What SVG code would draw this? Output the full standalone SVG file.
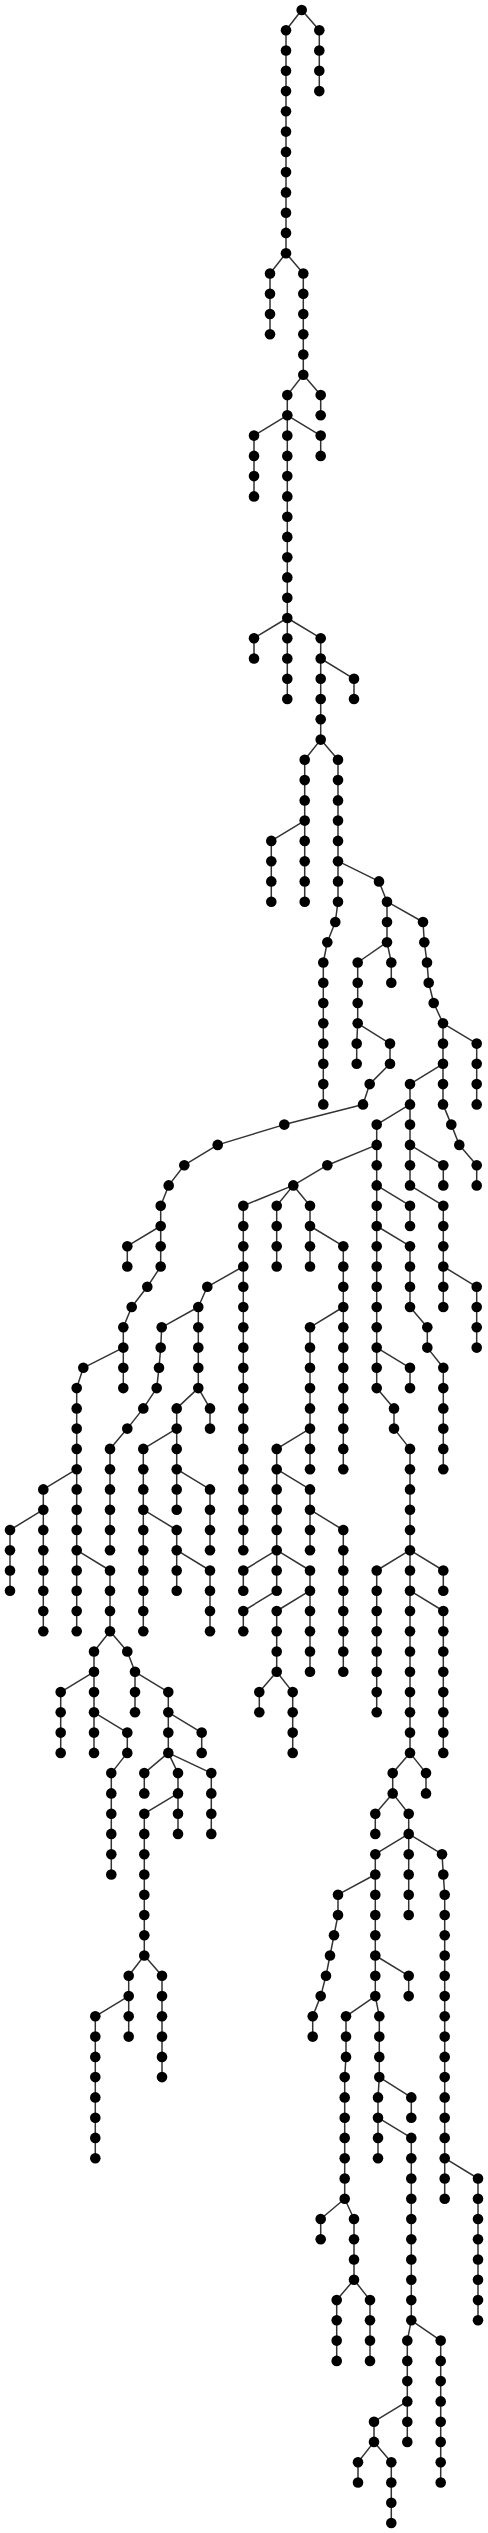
<svg xmlns="http://www.w3.org/2000/svg" width="488" height="2533" viewBox="0 0 488 2533">
<style>
#edges polyline{fill:none;stroke:#333;stroke-width:1.5;stroke-linejoin:round}
#nodes circle{fill:#000}
</style>
<rect width="488" height="2533" fill="#fff"/>
<g id="edges">
<polyline points="301.7,10 286,30.3 286,253.2"/>
<polyline points="301.7,10 319.3,30.3 319.3,91.1"/>
<polyline points="286,253.2 270,273.5 270,334.3"/>
<polyline points="286,253.2 303.3,273.5 303.3,374.8"/>
<polyline points="303.3,374.8 287.3,395.1 287.3,415.3"/>
<polyline points="303.3,374.8 320.7,395.1 320.7,415.3"/>
<polyline points="287.3,415.3 254,435.6 254,496.4"/>
<polyline points="287.3,415.3 320.7,435.6 320.7,455.9"/>
<polyline points="287.3,415.3 287.3,618"/>
<polyline points="287.3,618 254,638.2 254,658.5"/>
<polyline points="287.3,618 287.3,699"/>
<polyline points="287.3,618 320.7,638.2 320.7,739.6"/>
<polyline points="320.7,658.5 354,678.8 354,699"/>
<polyline points="320.7,739.6 304.7,759.8 304.7,820.6"/>
<polyline points="304.7,820.6 271.3,840.9 271.3,901.7"/>
<polyline points="304.7,820.6 304.7,901.7"/>
<polyline points="320.7,739.6 338,759.8 338,861.2"/>
<polyline points="338,861.2 338,901.7 335.3,922 327.3,942.2 323.3,962.5 323.3,1104.4"/>
<polyline points="338,861.2 379,881.4 387,901.7"/>
<polyline points="387,901.7 387,942.2"/>
<polyline points="387,942.2 391.3,962.5 391.3,982.8"/>
<polyline points="387,942.2 357.7,962.5 357.7,1023.3"/>
<polyline points="357.7,1023.3 356.7,1043.6 356.7,1063.8"/>
<polyline points="357.7,1023.3 390,1043.6 390,1063.8 369.7,1084.1 363,1104.4 284.3,1124.6 217.7,1144.9 184.3,1165.2 168.7,1185.4 160.7,1205.7 160.7,1226"/>
<polyline points="387,901.7 423,922 424.3,942.2 427,962.5 428.7,982.8 433.7,1003 443,1023.3"/>
<polyline points="443,1023.3 476.7,1043.6 476.7,1104.4"/>
<polyline points="443,1023.3 443,1063.8"/>
<polyline points="443,1063.8 443,1104.4 451.3,1124.6 459.3,1144.9 476.7,1165.2 476.7,1185.4"/>
<polyline points="443,1063.8 410,1084.1 410,1104.4"/>
<polyline points="410,1104.4 376.7,1124.6 376.7,1144.9"/>
<polyline points="376.7,1144.9 327.3,1165.2 293.3,1185.4"/>
<polyline points="293.3,1185.4 243.3,1205.7 243.3,1550.2"/>
<polyline points="243.3,1266.5 207.3,1286.8 198.3,1307"/>
<polyline points="198.3,1307 198.3,1388.1"/>
<polyline points="198.3,1388.1 210,1408.4 210,1428.6"/>
<polyline points="198.3,1388.1 176.7,1408.4 176.7,1428.6"/>
<polyline points="176.7,1428.6 143.3,1448.9 143.3,1509.7"/>
<polyline points="143.3,1509.7 143.3,1631.3"/>
<polyline points="143.3,1509.7 176.7,1530 176.7,1550.2"/>
<polyline points="176.7,1550.2 176.7,1590.7"/>
<polyline points="176.7,1550.2 210,1570.5 210,1631.3"/>
<polyline points="176.7,1428.6 176.7,1469.2"/>
<polyline points="176.7,1469.2 176.7,1509.7"/>
<polyline points="176.7,1469.2 210,1489.4 210,1550.2"/>
<polyline points="198.3,1307 161.7,1327.3 160.7,1347.6 159,1367.8 156.7,1388.1 143.3,1408.4 127.3,1428.6 110,1448.9 110,1550.2"/>
<polyline points="293.3,1185.4 276.7,1205.7 276.7,1266.5"/>
<polyline points="293.3,1185.4 310,1205.7 310,1226"/>
<polyline points="310,1226 310,1266.5"/>
<polyline points="310,1226 343.3,1246.2 343.3,1307"/>
<polyline points="343.3,1307 343.3,1469.2"/>
<polyline points="343.3,1307 310,1327.3 310,1428.6"/>
<polyline points="310,1428.6 310,1469.2"/>
<polyline points="310,1428.6 276.7,1448.9 276.7,1469.2"/>
<polyline points="276.7,1469.2 276.7,1550.2"/>
<polyline points="276.7,1469.2 310,1489.4 310,1509.7"/>
<polyline points="310,1509.7 310,1550.2"/>
<polyline points="310,1509.7 343.3,1530 343.3,1671.8"/>
<polyline points="276.7,1550.2 243.3,1570.5 243.3,1590.7"/>
<polyline points="276.7,1550.2 276.7,1590.7"/>
<polyline points="276.7,1590.7 243.3,1611 243.3,1631.3"/>
<polyline points="276.7,1550.2 310,1570.5 310,1590.7"/>
<polyline points="310,1590.7 310,1671.8"/>
<polyline points="310,1590.7 276.7,1611 276.7,1671.8"/>
<polyline points="276.7,1671.8 259.3,1692.1 259.3,1712.3"/>
<polyline points="276.7,1671.8 292.7,1692.1 292.7,1752.9"/>
<polyline points="376.7,1144.9 376.7,1185.4"/>
<polyline points="376.7,1185.4 410,1205.7 410,1226"/>
<polyline points="376.7,1185.4 376.7,1226"/>
<polyline points="376.7,1226 376.7,1347.6"/>
<polyline points="376.7,1347.6 410,1367.8 410,1388.1"/>
<polyline points="376.7,1347.6 376.7,1388.1 394,1408.4 394,1428.6 410,1448.9 410,1550.2"/>
<polyline points="410,1550.2 376.7,1570.5 376.7,1712.3"/>
<polyline points="410,1550.2 410,1590.7"/>
<polyline points="410,1550.2 443.3,1570.5 443.3,1590.7"/>
<polyline points="410,1590.7 443.3,1611 443.3,1752.9"/>
<polyline points="410,1590.7 410,1752.9"/>
<polyline points="410,1752.9 392.7,1773.1 392.7,1793.4"/>
<polyline points="410,1752.9 426,1773.1 426,1793.4"/>
<polyline points="392.7,1793.4 375.3,1813.7 375.3,1833.9"/>
<polyline points="392.7,1793.4 408.7,1813.7 408.7,1833.9"/>
<polyline points="408.7,1833.9 375.3,1854.2 375.3,1874.5"/>
<polyline points="408.7,1833.9 408.7,1915"/>
<polyline points="408.7,1833.9 442,1854.2 443.3,1874.5 444.7,1894.7 444.7,2158.2"/>
<polyline points="444.7,2158.2 444.7,2198.7"/>
<polyline points="444.7,2158.2 478,2178.5 478,2320.3"/>
<polyline points="375.3,1874.5 338,1894.7 338,1915 334,1935.3 330,1955.5 326,1975.8 320.7,1996.1 312.7,2016.3 312.7,2036.6"/>
<polyline points="375.3,1874.5 375.3,1955.5"/>
<polyline points="375.3,1955.5 408.7,1975.8 408.7,1996.1"/>
<polyline points="375.3,1955.5 375.3,1996.1"/>
<polyline points="375.3,1996.1 346,2016.3 346,2056.9 344.7,2077.1 344.7,2198.7"/>
<polyline points="344.7,2198.7 320.7,2219 320.7,2239.3"/>
<polyline points="344.7,2198.7 354,2219 354,2279.8"/>
<polyline points="354,2279.8 336.7,2300.1 336.7,2360.9"/>
<polyline points="354,2279.8 370,2300.1 370,2360.9"/>
<polyline points="375.3,1996.1 379.3,2016.3 379.3,2077.1"/>
<polyline points="379.3,2077.1 378,2097.4 378,2117.7"/>
<polyline points="378,2117.7 378,2158.2"/>
<polyline points="378,2117.7 411.3,2137.9 411.3,2320.3"/>
<polyline points="379.3,2077.1 411.3,2097.4 411.3,2117.7"/>
<polyline points="411.3,2320.3 407.3,2340.6 407.3,2401.4"/>
<polyline points="407.3,2401.4 407.3,2441.9"/>
<polyline points="407.3,2401.4 374,2421.7 374,2441.9"/>
<polyline points="374,2441.9 358,2462.2 358,2482.5"/>
<polyline points="374,2441.9 391.3,2462.2 391.3,2523"/>
<polyline points="411.3,2320.3 440.7,2340.6 440.7,2482.5"/>
<polyline points="410,1104.4 410,1144.9"/>
<polyline points="410,1144.9 443.3,1165.2 443.3,1185.4"/>
<polyline points="410,1144.9 410,1185.4"/>
<polyline points="410,1185.4 443.3,1205.7 443.3,1266.5"/>
<polyline points="443.3,1266.5 443.3,1307"/>
<polyline points="443.3,1266.5 476.7,1286.8 476.7,1347.6"/>
<polyline points="376.7,1226 410,1246.2 410,1307 427.3,1327.3 427.3,1347.6 443.3,1367.8 443.3,1469.2"/>
<polyline points="160.7,1226 127.3,1246.2 127.3,1266.5"/>
<polyline points="160.7,1226 160.7,1266.5 147.3,1286.8 131.7,1307 123.3,1327.3 123.3,1347.6"/>
<polyline points="123.3,1347.6 123.3,1388.1"/>
<polyline points="123.3,1347.6 83.3,1367.8 76.7,1388.1 76.7,1469.2"/>
<polyline points="76.7,1469.2 43.3,1489.4 43.3,1509.7"/>
<polyline points="43.3,1509.7 10,1530 10,1590.7"/>
<polyline points="43.3,1509.7 43.3,1631.3"/>
<polyline points="76.7,1469.2 76.7,1550.2"/>
<polyline points="76.7,1550.2 76.7,1631.3"/>
<polyline points="76.7,1550.2 110,1570.5 110,1631.3"/>
<polyline points="110,1631.3 94,1651.5 94,1671.8"/>
<polyline points="110,1631.3 127.3,1651.5 135,1671.8"/>
<polyline points="94,1671.8 60.7,1692.1 60.7,1752.9"/>
<polyline points="94,1671.8 94,1712.3"/>
<polyline points="94,1712.3 94,1752.9"/>
<polyline points="94,1712.3 127.3,1732.6 127.3,1752.9 111.3,1773.1 111.3,1874.5"/>
<polyline points="135,1671.8 135,1712.3"/>
<polyline points="135,1671.8 168.3,1692.1 168.3,1712.3"/>
<polyline points="168.3,1712.3 201.7,1732.6 201.7,1752.9"/>
<polyline points="168.3,1712.3 168.3,1752.9"/>
<polyline points="168.3,1752.9 144.3,1773.1 144.3,1793.4"/>
<polyline points="168.3,1752.9 178,1773.1 178,1793.4"/>
<polyline points="168.3,1752.9 211.3,1773.1 211.3,1833.9"/>
<polyline points="178,1793.4 178,1833.9"/>
<polyline points="178,1793.4 144.3,1813.7 144.3,1955.5"/>
<polyline points="144.3,1955.5 128.7,1975.8 128.7,1996.1"/>
<polyline points="144.3,1955.5 162,1975.8 162,2077.1"/>
<polyline points="128.7,1996.1 128.7,2036.6"/>
<polyline points="128.7,1996.1 95.3,2016.3 95.3,2158.2"/>
</g>
<g id="nodes">
<g id="n0"><circle cx="301.7" cy="10" r="5.3"/></g>
<g id="c2-1"><circle cx="286" cy="30.3" r="5.3"/></g>
<g id="c2-2"><circle cx="286" cy="50.5" r="5.3"/></g>
<g id="c2-3"><circle cx="286" cy="70.8" r="5.3"/></g>
<g id="c2-4"><circle cx="286" cy="91.1" r="5.3"/></g>
<g id="c2-5"><circle cx="286" cy="111.3" r="5.3"/></g>
<g id="c2-6"><circle cx="286" cy="131.6" r="5.3"/></g>
<g id="c2-7"><circle cx="286" cy="151.9" r="5.3"/></g>
<g id="c2-8"><circle cx="286" cy="172.1" r="5.3"/></g>
<g id="c2-9"><circle cx="286" cy="192.4" r="5.3"/></g>
<g id="c2-10"><circle cx="286" cy="212.7" r="5.3"/></g>
<g id="c2-11"><circle cx="286" cy="232.9" r="5.3"/></g>
<g id="c2-12"><circle cx="286" cy="253.2" r="5.3"/></g>
<g id="c3-1"><circle cx="319.3" cy="30.3" r="5.3"/></g>
<g id="c3-2"><circle cx="319.3" cy="50.5" r="5.3"/></g>
<g id="c3-3"><circle cx="319.3" cy="70.8" r="5.3"/></g>
<g id="c3-4"><circle cx="319.3" cy="91.1" r="5.3"/></g>
<g id="c4-1"><circle cx="270" cy="273.5" r="5.3"/></g>
<g id="c4-2"><circle cx="270" cy="293.7" r="5.3"/></g>
<g id="c4-3"><circle cx="270" cy="314" r="5.3"/></g>
<g id="c4-4"><circle cx="270" cy="334.3" r="5.3"/></g>
<g id="c5-1"><circle cx="303.3" cy="273.5" r="5.3"/></g>
<g id="c5-2"><circle cx="303.3" cy="293.7" r="5.3"/></g>
<g id="c5-3"><circle cx="303.3" cy="314" r="5.3"/></g>
<g id="c5-4"><circle cx="303.3" cy="334.3" r="5.3"/></g>
<g id="c5-5"><circle cx="303.3" cy="354.5" r="5.3"/></g>
<g id="c5-6"><circle cx="303.3" cy="374.8" r="5.3"/></g>
<g id="c6-1"><circle cx="287.3" cy="395.1" r="5.3"/></g>
<g id="c6-2"><circle cx="287.3" cy="415.3" r="5.3"/></g>
<g id="c7-1"><circle cx="320.7" cy="395.1" r="5.3"/></g>
<g id="c7-2"><circle cx="320.7" cy="415.3" r="5.3"/></g>
<g id="c8-1"><circle cx="254" cy="435.6" r="5.3"/></g>
<g id="c8-2"><circle cx="254" cy="455.9" r="5.3"/></g>
<g id="c8-3"><circle cx="254" cy="476.1" r="5.3"/></g>
<g id="c8-4"><circle cx="254" cy="496.4" r="5.3"/></g>
<g id="c9-1"><circle cx="320.7" cy="435.6" r="5.3"/></g>
<g id="c9-2"><circle cx="320.7" cy="455.9" r="5.3"/></g>
<g id="c10-1"><circle cx="287.3" cy="435.6" r="5.3"/></g>
<g id="c10-2"><circle cx="287.3" cy="455.9" r="5.3"/></g>
<g id="c10-3"><circle cx="287.3" cy="476.1" r="5.3"/></g>
<g id="c10-4"><circle cx="287.3" cy="496.4" r="5.3"/></g>
<g id="c10-5"><circle cx="287.3" cy="516.7" r="5.3"/></g>
<g id="c10-6"><circle cx="287.3" cy="536.9" r="5.3"/></g>
<g id="c10-7"><circle cx="287.3" cy="557.2" r="5.3"/></g>
<g id="c10-8"><circle cx="287.3" cy="577.4" r="5.3"/></g>
<g id="c10-9"><circle cx="287.3" cy="597.7" r="5.3"/></g>
<g id="c10-10"><circle cx="287.3" cy="618" r="5.3"/></g>
<g id="c11-1"><circle cx="254" cy="638.2" r="5.3"/></g>
<g id="c11-2"><circle cx="254" cy="658.5" r="5.3"/></g>
<g id="c12-1"><circle cx="287.3" cy="638.2" r="5.3"/></g>
<g id="c12-2"><circle cx="287.3" cy="658.5" r="5.3"/></g>
<g id="c12-3"><circle cx="287.3" cy="678.8" r="5.3"/></g>
<g id="c12-4"><circle cx="287.3" cy="699" r="5.3"/></g>
<g id="c13-1"><circle cx="320.7" cy="638.2" r="5.3"/></g>
<g id="c13-2"><circle cx="320.7" cy="658.5" r="5.3"/></g>
<g id="c13-3"><circle cx="320.7" cy="678.8" r="5.3"/></g>
<g id="c13-4"><circle cx="320.7" cy="699" r="5.3"/></g>
<g id="c13-5"><circle cx="320.7" cy="719.3" r="5.3"/></g>
<g id="c13-6"><circle cx="320.7" cy="739.6" r="5.3"/></g>
<g id="c14-1"><circle cx="354" cy="678.8" r="5.3"/></g>
<g id="c14-2"><circle cx="354" cy="699" r="5.3"/></g>
<g id="c15-1"><circle cx="304.7" cy="759.8" r="5.3"/></g>
<g id="c15-2"><circle cx="304.7" cy="780.1" r="5.3"/></g>
<g id="c15-3"><circle cx="304.7" cy="800.4" r="5.3"/></g>
<g id="c15-4"><circle cx="304.7" cy="820.6" r="5.3"/></g>
<g id="c16-1"><circle cx="271.3" cy="840.9" r="5.3"/></g>
<g id="c16-2"><circle cx="271.3" cy="861.2" r="5.3"/></g>
<g id="c16-3"><circle cx="271.3" cy="881.4" r="5.3"/></g>
<g id="c16-4"><circle cx="271.3" cy="901.7" r="5.3"/></g>
<g id="c17-1"><circle cx="304.7" cy="840.9" r="5.3"/></g>
<g id="c17-2"><circle cx="304.7" cy="861.2" r="5.3"/></g>
<g id="c17-3"><circle cx="304.7" cy="881.4" r="5.3"/></g>
<g id="c17-4"><circle cx="304.7" cy="901.7" r="5.3"/></g>
<g id="c18-1"><circle cx="338" cy="759.8" r="5.3"/></g>
<g id="c18-2"><circle cx="338" cy="780.1" r="5.3"/></g>
<g id="c18-3"><circle cx="338" cy="800.4" r="5.3"/></g>
<g id="c18-4"><circle cx="338" cy="820.6" r="5.3"/></g>
<g id="c18-5"><circle cx="338" cy="840.9" r="5.3"/></g>
<g id="c18-6"><circle cx="338" cy="861.2" r="5.3"/></g>
<g id="c19-1"><circle cx="338" cy="881.4" r="5.3"/></g>
<g id="c19-2"><circle cx="338" cy="901.7" r="5.3"/></g>
<g id="c19-3"><circle cx="335.3" cy="922" r="5.3"/></g>
<g id="c19-4"><circle cx="327.3" cy="942.2" r="5.3"/></g>
<g id="c19-5"><circle cx="323.3" cy="962.5" r="5.3"/></g>
<g id="c19-6"><circle cx="323.3" cy="982.8" r="5.3"/></g>
<g id="c19-7"><circle cx="323.3" cy="1003" r="5.3"/></g>
<g id="c19-8"><circle cx="323.3" cy="1023.3" r="5.3"/></g>
<g id="c19-9"><circle cx="323.3" cy="1043.6" r="5.3"/></g>
<g id="c19-10"><circle cx="323.3" cy="1063.8" r="5.3"/></g>
<g id="c19-11"><circle cx="323.3" cy="1084.1" r="5.3"/></g>
<g id="c19-12"><circle cx="323.3" cy="1104.4" r="5.3"/></g>
<g id="c20-1"><circle cx="379" cy="881.4" r="5.3"/></g>
<g id="c20-2"><circle cx="387" cy="901.7" r="5.3"/></g>
<g id="c21-1"><circle cx="387" cy="922" r="5.3"/></g>
<g id="c21-2"><circle cx="387" cy="942.2" r="5.3"/></g>
<g id="c22-1"><circle cx="391.3" cy="962.5" r="5.3"/></g>
<g id="c22-2"><circle cx="391.3" cy="982.8" r="5.3"/></g>
<g id="c23-1"><circle cx="357.7" cy="962.5" r="5.3"/></g>
<g id="c23-2"><circle cx="357.7" cy="982.8" r="5.3"/></g>
<g id="c23-3"><circle cx="357.7" cy="1003" r="5.3"/></g>
<g id="c23-4"><circle cx="357.7" cy="1023.3" r="5.3"/></g>
<g id="c24-1"><circle cx="356.7" cy="1043.6" r="5.3"/></g>
<g id="c24-2"><circle cx="356.7" cy="1063.8" r="5.3"/></g>
<g id="c25-1"><circle cx="390" cy="1043.6" r="5.3"/></g>
<g id="c25-2"><circle cx="390" cy="1063.8" r="5.3"/></g>
<g id="c25-3"><circle cx="369.7" cy="1084.1" r="5.3"/></g>
<g id="c25-4"><circle cx="363" cy="1104.4" r="5.3"/></g>
<g id="c25-5"><circle cx="284.3" cy="1124.6" r="5.3"/></g>
<g id="c25-6"><circle cx="217.7" cy="1144.9" r="5.3"/></g>
<g id="c25-7"><circle cx="184.3" cy="1165.2" r="5.3"/></g>
<g id="c25-8"><circle cx="168.7" cy="1185.4" r="5.3"/></g>
<g id="c25-9"><circle cx="160.7" cy="1205.7" r="5.3"/></g>
<g id="c25-10"><circle cx="160.7" cy="1226" r="5.3"/></g>
<g id="c26-1"><circle cx="423" cy="922" r="5.3"/></g>
<g id="c26-2"><circle cx="424.3" cy="942.2" r="5.3"/></g>
<g id="c26-3"><circle cx="427" cy="962.5" r="5.3"/></g>
<g id="c26-4"><circle cx="428.7" cy="982.8" r="5.3"/></g>
<g id="c26-5"><circle cx="433.7" cy="1003" r="5.3"/></g>
<g id="c26-6"><circle cx="443" cy="1023.3" r="5.3"/></g>
<g id="c27-1"><circle cx="476.7" cy="1043.6" r="5.3"/></g>
<g id="c27-2"><circle cx="476.7" cy="1063.8" r="5.3"/></g>
<g id="c27-3"><circle cx="476.7" cy="1084.1" r="5.3"/></g>
<g id="c27-4"><circle cx="476.7" cy="1104.4" r="5.3"/></g>
<g id="c28-1"><circle cx="443" cy="1043.6" r="5.3"/></g>
<g id="c28-2"><circle cx="443" cy="1063.8" r="5.3"/></g>
<g id="c29-1"><circle cx="443" cy="1084.1" r="5.3"/></g>
<g id="c29-2"><circle cx="443" cy="1104.4" r="5.3"/></g>
<g id="c29-3"><circle cx="451.3" cy="1124.6" r="5.3"/></g>
<g id="c29-4"><circle cx="459.3" cy="1144.9" r="5.3"/></g>
<g id="c29-5"><circle cx="476.7" cy="1165.2" r="5.3"/></g>
<g id="c29-6"><circle cx="476.7" cy="1185.4" r="5.3"/></g>
<g id="c30-1"><circle cx="410" cy="1084.1" r="5.3"/></g>
<g id="c30-2"><circle cx="410" cy="1104.4" r="5.3"/></g>
<g id="c31-1"><circle cx="376.7" cy="1124.6" r="5.3"/></g>
<g id="c31-2"><circle cx="376.7" cy="1144.9" r="5.3"/></g>
<g id="c32-1"><circle cx="327.3" cy="1165.2" r="5.3"/></g>
<g id="c32-2"><circle cx="293.3" cy="1185.4" r="5.3"/></g>
<g id="c33-1"><circle cx="243.3" cy="1205.7" r="5.3"/></g>
<g id="c33-2"><circle cx="243.3" cy="1226" r="5.3"/></g>
<g id="c33-3"><circle cx="243.3" cy="1246.2" r="5.3"/></g>
<g id="c33-4"><circle cx="243.3" cy="1266.5" r="5.3"/></g>
<g id="c33-5"><circle cx="243.3" cy="1286.8" r="5.3"/></g>
<g id="c33-6"><circle cx="243.3" cy="1307" r="5.3"/></g>
<g id="c33-7"><circle cx="243.3" cy="1327.3" r="5.3"/></g>
<g id="c33-8"><circle cx="243.3" cy="1347.6" r="5.3"/></g>
<g id="c33-9"><circle cx="243.3" cy="1367.8" r="5.3"/></g>
<g id="c33-10"><circle cx="243.3" cy="1388.1" r="5.3"/></g>
<g id="c33-11"><circle cx="243.3" cy="1408.4" r="5.3"/></g>
<g id="c33-12"><circle cx="243.3" cy="1428.6" r="5.3"/></g>
<g id="c33-13"><circle cx="243.3" cy="1448.9" r="5.3"/></g>
<g id="c33-14"><circle cx="243.3" cy="1469.2" r="5.3"/></g>
<g id="c33-15"><circle cx="243.3" cy="1489.4" r="5.3"/></g>
<g id="c33-16"><circle cx="243.3" cy="1509.7" r="5.3"/></g>
<g id="c33-17"><circle cx="243.3" cy="1530" r="5.3"/></g>
<g id="c33-18"><circle cx="243.3" cy="1550.2" r="5.3"/></g>
<g id="c34-1"><circle cx="207.3" cy="1286.8" r="5.3"/></g>
<g id="c34-2"><circle cx="198.3" cy="1307" r="5.3"/></g>
<g id="c35-1"><circle cx="198.3" cy="1327.3" r="5.3"/></g>
<g id="c35-2"><circle cx="198.3" cy="1347.6" r="5.3"/></g>
<g id="c35-3"><circle cx="198.3" cy="1367.8" r="5.3"/></g>
<g id="c35-4"><circle cx="198.3" cy="1388.1" r="5.3"/></g>
<g id="c36-1"><circle cx="210" cy="1408.4" r="5.3"/></g>
<g id="c36-2"><circle cx="210" cy="1428.6" r="5.3"/></g>
<g id="c37-1"><circle cx="176.7" cy="1408.4" r="5.3"/></g>
<g id="c37-2"><circle cx="176.7" cy="1428.6" r="5.3"/></g>
<g id="c38-1"><circle cx="143.3" cy="1448.9" r="5.3"/></g>
<g id="c38-2"><circle cx="143.3" cy="1469.2" r="5.3"/></g>
<g id="c38-3"><circle cx="143.3" cy="1489.4" r="5.3"/></g>
<g id="c38-4"><circle cx="143.3" cy="1509.7" r="5.3"/></g>
<g id="c39-1"><circle cx="143.3" cy="1530" r="5.3"/></g>
<g id="c39-2"><circle cx="143.3" cy="1550.2" r="5.3"/></g>
<g id="c39-3"><circle cx="143.3" cy="1570.5" r="5.3"/></g>
<g id="c39-4"><circle cx="143.3" cy="1590.7" r="5.3"/></g>
<g id="c39-5"><circle cx="143.3" cy="1611" r="5.3"/></g>
<g id="c39-6"><circle cx="143.3" cy="1631.3" r="5.3"/></g>
<g id="c40-1"><circle cx="176.7" cy="1530" r="5.3"/></g>
<g id="c40-2"><circle cx="176.7" cy="1550.2" r="5.3"/></g>
<g id="c41-1"><circle cx="176.7" cy="1570.5" r="5.3"/></g>
<g id="c41-2"><circle cx="176.7" cy="1590.7" r="5.3"/></g>
<g id="c42-1"><circle cx="210" cy="1570.5" r="5.3"/></g>
<g id="c42-2"><circle cx="210" cy="1590.7" r="5.3"/></g>
<g id="c42-3"><circle cx="210" cy="1611" r="5.3"/></g>
<g id="c42-4"><circle cx="210" cy="1631.3" r="5.3"/></g>
<g id="c43-1"><circle cx="176.7" cy="1448.9" r="5.3"/></g>
<g id="c43-2"><circle cx="176.7" cy="1469.2" r="5.3"/></g>
<g id="c44-1"><circle cx="176.7" cy="1489.4" r="5.3"/></g>
<g id="c44-2"><circle cx="176.7" cy="1509.7" r="5.3"/></g>
<g id="c45-1"><circle cx="210" cy="1489.4" r="5.3"/></g>
<g id="c45-2"><circle cx="210" cy="1509.7" r="5.3"/></g>
<g id="c45-3"><circle cx="210" cy="1530" r="5.3"/></g>
<g id="c45-4"><circle cx="210" cy="1550.2" r="5.3"/></g>
<g id="c46-1"><circle cx="161.7" cy="1327.3" r="5.3"/></g>
<g id="c46-2"><circle cx="160.7" cy="1347.6" r="5.3"/></g>
<g id="c46-3"><circle cx="159" cy="1367.8" r="5.3"/></g>
<g id="c46-4"><circle cx="156.7" cy="1388.1" r="5.3"/></g>
<g id="c46-5"><circle cx="143.3" cy="1408.4" r="5.3"/></g>
<g id="c46-6"><circle cx="127.3" cy="1428.6" r="5.3"/></g>
<g id="c46-7"><circle cx="110" cy="1448.9" r="5.3"/></g>
<g id="c46-8"><circle cx="110" cy="1469.2" r="5.3"/></g>
<g id="c46-9"><circle cx="110" cy="1489.4" r="5.3"/></g>
<g id="c46-10"><circle cx="110" cy="1509.7" r="5.3"/></g>
<g id="c46-11"><circle cx="110" cy="1530" r="5.3"/></g>
<g id="c46-12"><circle cx="110" cy="1550.2" r="5.3"/></g>
<g id="c47-1"><circle cx="276.7" cy="1205.7" r="5.3"/></g>
<g id="c47-2"><circle cx="276.7" cy="1226" r="5.3"/></g>
<g id="c47-3"><circle cx="276.7" cy="1246.2" r="5.3"/></g>
<g id="c47-4"><circle cx="276.7" cy="1266.5" r="5.3"/></g>
<g id="c48-1"><circle cx="310" cy="1205.7" r="5.3"/></g>
<g id="c48-2"><circle cx="310" cy="1226" r="5.3"/></g>
<g id="c49-1"><circle cx="310" cy="1246.2" r="5.3"/></g>
<g id="c49-2"><circle cx="310" cy="1266.5" r="5.3"/></g>
<g id="c50-1"><circle cx="343.3" cy="1246.2" r="5.3"/></g>
<g id="c50-2"><circle cx="343.3" cy="1266.5" r="5.3"/></g>
<g id="c50-3"><circle cx="343.3" cy="1286.8" r="5.3"/></g>
<g id="c50-4"><circle cx="343.3" cy="1307" r="5.3"/></g>
<g id="c51-1"><circle cx="343.3" cy="1327.3" r="5.3"/></g>
<g id="c51-2"><circle cx="343.3" cy="1347.6" r="5.3"/></g>
<g id="c51-3"><circle cx="343.3" cy="1367.8" r="5.3"/></g>
<g id="c51-4"><circle cx="343.3" cy="1388.1" r="5.3"/></g>
<g id="c51-5"><circle cx="343.3" cy="1408.4" r="5.3"/></g>
<g id="c51-6"><circle cx="343.3" cy="1428.6" r="5.3"/></g>
<g id="c51-7"><circle cx="343.3" cy="1448.9" r="5.3"/></g>
<g id="c51-8"><circle cx="343.3" cy="1469.2" r="5.3"/></g>
<g id="c52-1"><circle cx="310" cy="1327.3" r="5.3"/></g>
<g id="c52-2"><circle cx="310" cy="1347.6" r="5.3"/></g>
<g id="c52-3"><circle cx="310" cy="1367.8" r="5.3"/></g>
<g id="c52-4"><circle cx="310" cy="1388.1" r="5.3"/></g>
<g id="c52-5"><circle cx="310" cy="1408.4" r="5.3"/></g>
<g id="c52-6"><circle cx="310" cy="1428.6" r="5.3"/></g>
<g id="c53-1"><circle cx="310" cy="1448.9" r="5.3"/></g>
<g id="c53-2"><circle cx="310" cy="1469.2" r="5.3"/></g>
<g id="c54-1"><circle cx="276.7" cy="1448.9" r="5.3"/></g>
<g id="c54-2"><circle cx="276.7" cy="1469.2" r="5.3"/></g>
<g id="c55-1"><circle cx="276.7" cy="1489.4" r="5.3"/></g>
<g id="c55-2"><circle cx="276.7" cy="1509.7" r="5.3"/></g>
<g id="c55-3"><circle cx="276.7" cy="1530" r="5.3"/></g>
<g id="c55-4"><circle cx="276.7" cy="1550.2" r="5.3"/></g>
<g id="c56-1"><circle cx="310" cy="1489.4" r="5.3"/></g>
<g id="c56-2"><circle cx="310" cy="1509.7" r="5.3"/></g>
<g id="c57-1"><circle cx="310" cy="1530" r="5.3"/></g>
<g id="c57-2"><circle cx="310" cy="1550.2" r="5.3"/></g>
<g id="c58-1"><circle cx="343.3" cy="1530" r="5.3"/></g>
<g id="c58-2"><circle cx="343.3" cy="1550.2" r="5.3"/></g>
<g id="c58-3"><circle cx="343.3" cy="1570.5" r="5.3"/></g>
<g id="c58-4"><circle cx="343.3" cy="1590.7" r="5.3"/></g>
<g id="c58-5"><circle cx="343.3" cy="1611" r="5.3"/></g>
<g id="c58-6"><circle cx="343.3" cy="1631.3" r="5.3"/></g>
<g id="c58-7"><circle cx="343.3" cy="1651.5" r="5.3"/></g>
<g id="c58-8"><circle cx="343.3" cy="1671.8" r="5.3"/></g>
<g id="c59-1"><circle cx="243.3" cy="1570.5" r="5.3"/></g>
<g id="c59-2"><circle cx="243.3" cy="1590.7" r="5.3"/></g>
<g id="c60-1"><circle cx="276.7" cy="1570.5" r="5.3"/></g>
<g id="c60-2"><circle cx="276.7" cy="1590.7" r="5.3"/></g>
<g id="c61-1"><circle cx="243.3" cy="1611" r="5.3"/></g>
<g id="c61-2"><circle cx="243.3" cy="1631.3" r="5.3"/></g>
<g id="c62-1"><circle cx="310" cy="1570.5" r="5.3"/></g>
<g id="c62-2"><circle cx="310" cy="1590.7" r="5.3"/></g>
<g id="c63-1"><circle cx="310" cy="1611" r="5.3"/></g>
<g id="c63-2"><circle cx="310" cy="1631.3" r="5.3"/></g>
<g id="c63-3"><circle cx="310" cy="1651.5" r="5.3"/></g>
<g id="c63-4"><circle cx="310" cy="1671.8" r="5.3"/></g>
<g id="c64-1"><circle cx="276.7" cy="1611" r="5.3"/></g>
<g id="c64-2"><circle cx="276.7" cy="1631.3" r="5.3"/></g>
<g id="c64-3"><circle cx="276.7" cy="1651.5" r="5.3"/></g>
<g id="c64-4"><circle cx="276.7" cy="1671.8" r="5.3"/></g>
<g id="c65-1"><circle cx="259.3" cy="1692.1" r="5.3"/></g>
<g id="c65-2"><circle cx="259.3" cy="1712.3" r="5.3"/></g>
<g id="c66-1"><circle cx="292.7" cy="1692.1" r="5.3"/></g>
<g id="c66-2"><circle cx="292.7" cy="1712.3" r="5.3"/></g>
<g id="c66-3"><circle cx="292.7" cy="1732.6" r="5.3"/></g>
<g id="c66-4"><circle cx="292.7" cy="1752.9" r="5.3"/></g>
<g id="c67-1"><circle cx="376.7" cy="1165.2" r="5.3"/></g>
<g id="c67-2"><circle cx="376.7" cy="1185.4" r="5.3"/></g>
<g id="c68-1"><circle cx="410" cy="1205.7" r="5.3"/></g>
<g id="c68-2"><circle cx="410" cy="1226" r="5.3"/></g>
<g id="c69-1"><circle cx="376.7" cy="1205.7" r="5.3"/></g>
<g id="c69-2"><circle cx="376.7" cy="1226" r="5.3"/></g>
<g id="c70-1"><circle cx="376.7" cy="1246.2" r="5.3"/></g>
<g id="c70-2"><circle cx="376.7" cy="1266.5" r="5.3"/></g>
<g id="c70-3"><circle cx="376.7" cy="1286.8" r="5.3"/></g>
<g id="c70-4"><circle cx="376.7" cy="1307" r="5.3"/></g>
<g id="c70-5"><circle cx="376.7" cy="1327.3" r="5.3"/></g>
<g id="c70-6"><circle cx="376.7" cy="1347.6" r="5.3"/></g>
<g id="c71-1"><circle cx="410" cy="1367.8" r="5.3"/></g>
<g id="c71-2"><circle cx="410" cy="1388.1" r="5.3"/></g>
<g id="c72-1"><circle cx="376.7" cy="1367.8" r="5.3"/></g>
<g id="c72-2"><circle cx="376.7" cy="1388.1" r="5.3"/></g>
<g id="c72-3"><circle cx="394" cy="1408.4" r="5.3"/></g>
<g id="c72-4"><circle cx="394" cy="1428.6" r="5.3"/></g>
<g id="c72-5"><circle cx="410" cy="1448.9" r="5.3"/></g>
<g id="c72-6"><circle cx="410" cy="1469.2" r="5.3"/></g>
<g id="c72-7"><circle cx="410" cy="1489.4" r="5.3"/></g>
<g id="c72-8"><circle cx="410" cy="1509.7" r="5.3"/></g>
<g id="c72-9"><circle cx="410" cy="1530" r="5.3"/></g>
<g id="c72-10"><circle cx="410" cy="1550.2" r="5.3"/></g>
<g id="c73-1"><circle cx="376.7" cy="1570.5" r="5.3"/></g>
<g id="c73-2"><circle cx="376.7" cy="1590.7" r="5.3"/></g>
<g id="c73-3"><circle cx="376.7" cy="1611" r="5.3"/></g>
<g id="c73-4"><circle cx="376.7" cy="1631.3" r="5.3"/></g>
<g id="c73-5"><circle cx="376.7" cy="1651.5" r="5.3"/></g>
<g id="c73-6"><circle cx="376.7" cy="1671.8" r="5.3"/></g>
<g id="c73-7"><circle cx="376.7" cy="1692.1" r="5.3"/></g>
<g id="c73-8"><circle cx="376.7" cy="1712.3" r="5.3"/></g>
<g id="c74-1"><circle cx="410" cy="1570.5" r="5.3"/></g>
<g id="c74-2"><circle cx="410" cy="1590.7" r="5.3"/></g>
<g id="c75-1"><circle cx="443.3" cy="1570.5" r="5.3"/></g>
<g id="c75-2"><circle cx="443.3" cy="1590.7" r="5.3"/></g>
<g id="c76-1"><circle cx="443.3" cy="1611" r="5.3"/></g>
<g id="c76-2"><circle cx="443.3" cy="1631.3" r="5.3"/></g>
<g id="c76-3"><circle cx="443.3" cy="1651.5" r="5.3"/></g>
<g id="c76-4"><circle cx="443.3" cy="1671.8" r="5.3"/></g>
<g id="c76-5"><circle cx="443.3" cy="1692.1" r="5.3"/></g>
<g id="c76-6"><circle cx="443.3" cy="1712.3" r="5.3"/></g>
<g id="c76-7"><circle cx="443.3" cy="1732.6" r="5.3"/></g>
<g id="c76-8"><circle cx="443.3" cy="1752.9" r="5.3"/></g>
<g id="c77-1"><circle cx="410" cy="1611" r="5.3"/></g>
<g id="c77-2"><circle cx="410" cy="1631.3" r="5.3"/></g>
<g id="c77-3"><circle cx="410" cy="1651.5" r="5.3"/></g>
<g id="c77-4"><circle cx="410" cy="1671.8" r="5.3"/></g>
<g id="c77-5"><circle cx="410" cy="1692.1" r="5.3"/></g>
<g id="c77-6"><circle cx="410" cy="1712.3" r="5.3"/></g>
<g id="c77-7"><circle cx="410" cy="1732.6" r="5.3"/></g>
<g id="c77-8"><circle cx="410" cy="1752.9" r="5.3"/></g>
<g id="c78-1"><circle cx="392.7" cy="1773.1" r="5.3"/></g>
<g id="c78-2"><circle cx="392.7" cy="1793.4" r="5.3"/></g>
<g id="c79-1"><circle cx="426" cy="1773.1" r="5.3"/></g>
<g id="c79-2"><circle cx="426" cy="1793.4" r="5.3"/></g>
<g id="c80-1"><circle cx="375.3" cy="1813.7" r="5.3"/></g>
<g id="c80-2"><circle cx="375.3" cy="1833.9" r="5.3"/></g>
<g id="c81-1"><circle cx="408.7" cy="1813.7" r="5.3"/></g>
<g id="c81-2"><circle cx="408.7" cy="1833.9" r="5.3"/></g>
<g id="c82-1"><circle cx="375.3" cy="1854.2" r="5.3"/></g>
<g id="c82-2"><circle cx="375.3" cy="1874.5" r="5.3"/></g>
<g id="c83-1"><circle cx="408.7" cy="1854.2" r="5.3"/></g>
<g id="c83-2"><circle cx="408.7" cy="1874.5" r="5.3"/></g>
<g id="c83-3"><circle cx="408.7" cy="1894.7" r="5.3"/></g>
<g id="c83-4"><circle cx="408.7" cy="1915" r="5.3"/></g>
<g id="c84-1"><circle cx="442" cy="1854.2" r="5.3"/></g>
<g id="c84-2"><circle cx="443.3" cy="1874.5" r="5.3"/></g>
<g id="c84-3"><circle cx="444.7" cy="1894.7" r="5.3"/></g>
<g id="c84-4"><circle cx="444.7" cy="1915" r="5.3"/></g>
<g id="c84-5"><circle cx="444.7" cy="1935.3" r="5.3"/></g>
<g id="c84-6"><circle cx="444.7" cy="1955.5" r="5.3"/></g>
<g id="c84-7"><circle cx="444.7" cy="1975.8" r="5.3"/></g>
<g id="c84-8"><circle cx="444.7" cy="1996.1" r="5.3"/></g>
<g id="c84-9"><circle cx="444.7" cy="2016.3" r="5.3"/></g>
<g id="c84-10"><circle cx="444.7" cy="2036.6" r="5.3"/></g>
<g id="c84-11"><circle cx="444.7" cy="2056.9" r="5.3"/></g>
<g id="c84-12"><circle cx="444.7" cy="2077.1" r="5.3"/></g>
<g id="c84-13"><circle cx="444.7" cy="2097.4" r="5.3"/></g>
<g id="c84-14"><circle cx="444.7" cy="2117.7" r="5.3"/></g>
<g id="c84-15"><circle cx="444.7" cy="2137.9" r="5.3"/></g>
<g id="c84-16"><circle cx="444.7" cy="2158.2" r="5.3"/></g>
<g id="c85-1"><circle cx="444.7" cy="2178.5" r="5.3"/></g>
<g id="c85-2"><circle cx="444.7" cy="2198.7" r="5.3"/></g>
<g id="c86-1"><circle cx="478" cy="2178.5" r="5.3"/></g>
<g id="c86-2"><circle cx="478" cy="2198.7" r="5.3"/></g>
<g id="c86-3"><circle cx="478" cy="2219" r="5.3"/></g>
<g id="c86-4"><circle cx="478" cy="2239.3" r="5.3"/></g>
<g id="c86-5"><circle cx="478" cy="2259.5" r="5.3"/></g>
<g id="c86-6"><circle cx="478" cy="2279.8" r="5.3"/></g>
<g id="c86-7"><circle cx="478" cy="2300.1" r="5.3"/></g>
<g id="c86-8"><circle cx="478" cy="2320.3" r="5.3"/></g>
<g id="c87-1"><circle cx="338" cy="1894.7" r="5.3"/></g>
<g id="c87-2"><circle cx="338" cy="1915" r="5.3"/></g>
<g id="c87-3"><circle cx="334" cy="1935.3" r="5.3"/></g>
<g id="c87-4"><circle cx="330" cy="1955.5" r="5.3"/></g>
<g id="c87-5"><circle cx="326" cy="1975.8" r="5.3"/></g>
<g id="c87-6"><circle cx="320.7" cy="1996.1" r="5.3"/></g>
<g id="c87-7"><circle cx="312.7" cy="2016.3" r="5.3"/></g>
<g id="c87-8"><circle cx="312.7" cy="2036.6" r="5.3"/></g>
<g id="c88-1"><circle cx="375.3" cy="1894.7" r="5.3"/></g>
<g id="c88-2"><circle cx="375.3" cy="1915" r="5.3"/></g>
<g id="c88-3"><circle cx="375.3" cy="1935.3" r="5.3"/></g>
<g id="c88-4"><circle cx="375.3" cy="1955.5" r="5.3"/></g>
<g id="c89-1"><circle cx="408.7" cy="1975.8" r="5.3"/></g>
<g id="c89-2"><circle cx="408.7" cy="1996.1" r="5.3"/></g>
<g id="c90-1"><circle cx="375.3" cy="1975.8" r="5.3"/></g>
<g id="c90-2"><circle cx="375.3" cy="1996.1" r="5.3"/></g>
<g id="c91-1"><circle cx="346" cy="2016.3" r="5.3"/></g>
<g id="c91-2"><circle cx="346" cy="2036.6" r="5.3"/></g>
<g id="c91-3"><circle cx="346" cy="2056.9" r="5.3"/></g>
<g id="c91-4"><circle cx="344.7" cy="2077.1" r="5.3"/></g>
<g id="c91-5"><circle cx="344.7" cy="2097.4" r="5.3"/></g>
<g id="c91-6"><circle cx="344.7" cy="2117.7" r="5.3"/></g>
<g id="c91-7"><circle cx="344.7" cy="2137.9" r="5.3"/></g>
<g id="c91-8"><circle cx="344.7" cy="2158.2" r="5.3"/></g>
<g id="c91-9"><circle cx="344.7" cy="2178.5" r="5.3"/></g>
<g id="c91-10"><circle cx="344.7" cy="2198.7" r="5.3"/></g>
<g id="c92-1"><circle cx="320.7" cy="2219" r="5.3"/></g>
<g id="c92-2"><circle cx="320.7" cy="2239.3" r="5.3"/></g>
<g id="c93-1"><circle cx="354" cy="2219" r="5.3"/></g>
<g id="c93-2"><circle cx="354" cy="2239.3" r="5.3"/></g>
<g id="c93-3"><circle cx="354" cy="2259.5" r="5.3"/></g>
<g id="c93-4"><circle cx="354" cy="2279.8" r="5.3"/></g>
<g id="c94-1"><circle cx="336.7" cy="2300.1" r="5.3"/></g>
<g id="c94-2"><circle cx="336.7" cy="2320.3" r="5.3"/></g>
<g id="c94-3"><circle cx="336.7" cy="2340.6" r="5.3"/></g>
<g id="c94-4"><circle cx="336.7" cy="2360.9" r="5.3"/></g>
<g id="c95-1"><circle cx="370" cy="2300.1" r="5.3"/></g>
<g id="c95-2"><circle cx="370" cy="2320.3" r="5.3"/></g>
<g id="c95-3"><circle cx="370" cy="2340.6" r="5.3"/></g>
<g id="c95-4"><circle cx="370" cy="2360.9" r="5.3"/></g>
<g id="c96-1"><circle cx="379.3" cy="2016.3" r="5.3"/></g>
<g id="c96-2"><circle cx="379.3" cy="2036.6" r="5.3"/></g>
<g id="c96-3"><circle cx="379.3" cy="2056.9" r="5.3"/></g>
<g id="c96-4"><circle cx="379.3" cy="2077.1" r="5.3"/></g>
<g id="c97-1"><circle cx="378" cy="2097.4" r="5.3"/></g>
<g id="c97-2"><circle cx="378" cy="2117.7" r="5.3"/></g>
<g id="c98-1"><circle cx="378" cy="2137.9" r="5.3"/></g>
<g id="c98-2"><circle cx="378" cy="2158.2" r="5.3"/></g>
<g id="c99-1"><circle cx="411.3" cy="2137.9" r="5.3"/></g>
<g id="c99-2"><circle cx="411.3" cy="2158.2" r="5.3"/></g>
<g id="c99-3"><circle cx="411.3" cy="2178.5" r="5.3"/></g>
<g id="c99-4"><circle cx="411.3" cy="2198.7" r="5.3"/></g>
<g id="c99-5"><circle cx="411.3" cy="2219" r="5.3"/></g>
<g id="c99-6"><circle cx="411.3" cy="2239.3" r="5.3"/></g>
<g id="c99-7"><circle cx="411.3" cy="2259.5" r="5.3"/></g>
<g id="c99-8"><circle cx="411.3" cy="2279.8" r="5.3"/></g>
<g id="c99-9"><circle cx="411.3" cy="2300.1" r="5.3"/></g>
<g id="c99-10"><circle cx="411.3" cy="2320.3" r="5.3"/></g>
<g id="c100-1"><circle cx="411.3" cy="2097.4" r="5.3"/></g>
<g id="c100-2"><circle cx="411.3" cy="2117.7" r="5.3"/></g>
<g id="c101-1"><circle cx="407.3" cy="2340.6" r="5.3"/></g>
<g id="c101-2"><circle cx="407.3" cy="2360.9" r="5.3"/></g>
<g id="c101-3"><circle cx="407.3" cy="2381.1" r="5.3"/></g>
<g id="c101-4"><circle cx="407.3" cy="2401.4" r="5.3"/></g>
<g id="c102-1"><circle cx="407.3" cy="2421.7" r="5.3"/></g>
<g id="c102-2"><circle cx="407.3" cy="2441.9" r="5.3"/></g>
<g id="c103-1"><circle cx="374" cy="2421.7" r="5.3"/></g>
<g id="c103-2"><circle cx="374" cy="2441.9" r="5.3"/></g>
<g id="c104-1"><circle cx="358" cy="2462.2" r="5.3"/></g>
<g id="c104-2"><circle cx="358" cy="2482.5" r="5.3"/></g>
<g id="c105-1"><circle cx="391.3" cy="2462.2" r="5.3"/></g>
<g id="c105-2"><circle cx="391.3" cy="2482.5" r="5.3"/></g>
<g id="c105-3"><circle cx="391.3" cy="2502.7" r="5.3"/></g>
<g id="c105-4"><circle cx="391.3" cy="2523" r="5.3"/></g>
<g id="c106-1"><circle cx="440.7" cy="2340.6" r="5.3"/></g>
<g id="c106-2"><circle cx="440.7" cy="2360.9" r="5.3"/></g>
<g id="c106-3"><circle cx="440.7" cy="2381.1" r="5.3"/></g>
<g id="c106-4"><circle cx="440.7" cy="2401.4" r="5.3"/></g>
<g id="c106-5"><circle cx="440.7" cy="2421.7" r="5.3"/></g>
<g id="c106-6"><circle cx="440.7" cy="2441.9" r="5.3"/></g>
<g id="c106-7"><circle cx="440.7" cy="2462.2" r="5.3"/></g>
<g id="c106-8"><circle cx="440.7" cy="2482.5" r="5.3"/></g>
<g id="c108-1"><circle cx="410" cy="1124.6" r="5.3"/></g>
<g id="c108-2"><circle cx="410" cy="1144.9" r="5.3"/></g>
<g id="c109-1"><circle cx="443.3" cy="1165.2" r="5.3"/></g>
<g id="c109-2"><circle cx="443.3" cy="1185.4" r="5.3"/></g>
<g id="c110-1"><circle cx="410" cy="1165.2" r="5.3"/></g>
<g id="c110-2"><circle cx="410" cy="1185.4" r="5.3"/></g>
<g id="c111-1"><circle cx="443.3" cy="1205.7" r="5.3"/></g>
<g id="c111-2"><circle cx="443.3" cy="1226" r="5.3"/></g>
<g id="c111-3"><circle cx="443.3" cy="1246.2" r="5.3"/></g>
<g id="c111-4"><circle cx="443.3" cy="1266.5" r="5.3"/></g>
<g id="c112-1"><circle cx="443.3" cy="1286.8" r="5.3"/></g>
<g id="c112-2"><circle cx="443.3" cy="1307" r="5.3"/></g>
<g id="c113-1"><circle cx="476.7" cy="1286.8" r="5.3"/></g>
<g id="c113-2"><circle cx="476.7" cy="1307" r="5.3"/></g>
<g id="c113-3"><circle cx="476.7" cy="1327.3" r="5.3"/></g>
<g id="c113-4"><circle cx="476.7" cy="1347.6" r="5.3"/></g>
<g id="c114-1"><circle cx="410" cy="1246.2" r="5.3"/></g>
<g id="c114-2"><circle cx="410" cy="1266.5" r="5.3"/></g>
<g id="c114-3"><circle cx="410" cy="1286.8" r="5.3"/></g>
<g id="c114-4"><circle cx="410" cy="1307" r="5.3"/></g>
<g id="c114-5"><circle cx="427.3" cy="1327.3" r="5.3"/></g>
<g id="c114-6"><circle cx="427.3" cy="1347.6" r="5.3"/></g>
<g id="c114-7"><circle cx="443.3" cy="1367.8" r="5.3"/></g>
<g id="c114-8"><circle cx="443.3" cy="1388.1" r="5.3"/></g>
<g id="c114-9"><circle cx="443.3" cy="1408.4" r="5.3"/></g>
<g id="c114-10"><circle cx="443.3" cy="1428.6" r="5.3"/></g>
<g id="c114-11"><circle cx="443.3" cy="1448.9" r="5.3"/></g>
<g id="c114-12"><circle cx="443.3" cy="1469.2" r="5.3"/></g>
<g id="c115-1"><circle cx="127.3" cy="1246.2" r="5.3"/></g>
<g id="c115-2"><circle cx="127.3" cy="1266.5" r="5.3"/></g>
<g id="c116-1"><circle cx="160.7" cy="1246.2" r="5.3"/></g>
<g id="c116-2"><circle cx="160.7" cy="1266.5" r="5.3"/></g>
<g id="c116-3"><circle cx="147.3" cy="1286.8" r="5.3"/></g>
<g id="c116-4"><circle cx="131.7" cy="1307" r="5.3"/></g>
<g id="c116-5"><circle cx="123.3" cy="1327.3" r="5.3"/></g>
<g id="c116-6"><circle cx="123.3" cy="1347.6" r="5.3"/></g>
<g id="c117-1"><circle cx="123.3" cy="1367.8" r="5.3"/></g>
<g id="c117-2"><circle cx="123.3" cy="1388.1" r="5.3"/></g>
<g id="c118-1"><circle cx="83.3" cy="1367.8" r="5.3"/></g>
<g id="c118-2"><circle cx="76.7" cy="1388.1" r="5.3"/></g>
<g id="c118-3"><circle cx="76.7" cy="1408.4" r="5.3"/></g>
<g id="c118-4"><circle cx="76.7" cy="1428.6" r="5.3"/></g>
<g id="c118-5"><circle cx="76.7" cy="1448.9" r="5.3"/></g>
<g id="c118-6"><circle cx="76.7" cy="1469.2" r="5.3"/></g>
<g id="c119-1"><circle cx="43.3" cy="1489.4" r="5.3"/></g>
<g id="c119-2"><circle cx="43.3" cy="1509.7" r="5.3"/></g>
<g id="c120-1"><circle cx="10" cy="1530" r="5.3"/></g>
<g id="c120-2"><circle cx="10" cy="1550.2" r="5.3"/></g>
<g id="c120-3"><circle cx="10" cy="1570.5" r="5.3"/></g>
<g id="c120-4"><circle cx="10" cy="1590.7" r="5.3"/></g>
<g id="c121-1"><circle cx="43.3" cy="1530" r="5.3"/></g>
<g id="c121-2"><circle cx="43.3" cy="1550.2" r="5.3"/></g>
<g id="c121-3"><circle cx="43.3" cy="1570.5" r="5.3"/></g>
<g id="c121-4"><circle cx="43.3" cy="1590.7" r="5.3"/></g>
<g id="c121-5"><circle cx="43.3" cy="1611" r="5.3"/></g>
<g id="c121-6"><circle cx="43.3" cy="1631.3" r="5.3"/></g>
<g id="c122-1"><circle cx="76.7" cy="1489.4" r="5.3"/></g>
<g id="c122-2"><circle cx="76.7" cy="1509.7" r="5.3"/></g>
<g id="c122-3"><circle cx="76.7" cy="1530" r="5.3"/></g>
<g id="c122-4"><circle cx="76.7" cy="1550.2" r="5.3"/></g>
<g id="c123-1"><circle cx="76.7" cy="1570.5" r="5.3"/></g>
<g id="c123-2"><circle cx="76.7" cy="1590.7" r="5.3"/></g>
<g id="c123-3"><circle cx="76.7" cy="1611" r="5.3"/></g>
<g id="c123-4"><circle cx="76.7" cy="1631.3" r="5.3"/></g>
<g id="c124-1"><circle cx="110" cy="1570.5" r="5.3"/></g>
<g id="c124-2"><circle cx="110" cy="1590.7" r="5.3"/></g>
<g id="c124-3"><circle cx="110" cy="1611" r="5.3"/></g>
<g id="c124-4"><circle cx="110" cy="1631.3" r="5.3"/></g>
<g id="c125-1"><circle cx="94" cy="1651.5" r="5.3"/></g>
<g id="c125-2"><circle cx="94" cy="1671.8" r="5.3"/></g>
<g id="c126-1"><circle cx="127.3" cy="1651.5" r="5.3"/></g>
<g id="c126-2"><circle cx="135" cy="1671.8" r="5.3"/></g>
<g id="c127-1"><circle cx="60.7" cy="1692.1" r="5.3"/></g>
<g id="c127-2"><circle cx="60.7" cy="1712.3" r="5.3"/></g>
<g id="c127-3"><circle cx="60.7" cy="1732.6" r="5.3"/></g>
<g id="c127-4"><circle cx="60.7" cy="1752.9" r="5.3"/></g>
<g id="c128-1"><circle cx="94" cy="1692.1" r="5.3"/></g>
<g id="c128-2"><circle cx="94" cy="1712.3" r="5.3"/></g>
<g id="c129-1"><circle cx="94" cy="1732.6" r="5.3"/></g>
<g id="c129-2"><circle cx="94" cy="1752.9" r="5.3"/></g>
<g id="c130-1"><circle cx="127.3" cy="1732.6" r="5.3"/></g>
<g id="c130-2"><circle cx="127.3" cy="1752.9" r="5.3"/></g>
<g id="c130-3"><circle cx="111.3" cy="1773.1" r="5.3"/></g>
<g id="c130-4"><circle cx="111.3" cy="1793.4" r="5.3"/></g>
<g id="c130-5"><circle cx="111.3" cy="1813.7" r="5.3"/></g>
<g id="c130-6"><circle cx="111.3" cy="1833.9" r="5.3"/></g>
<g id="c130-7"><circle cx="111.3" cy="1854.2" r="5.3"/></g>
<g id="c130-8"><circle cx="111.3" cy="1874.5" r="5.3"/></g>
<g id="c131-1"><circle cx="135" cy="1692.1" r="5.3"/></g>
<g id="c131-2"><circle cx="135" cy="1712.3" r="5.3"/></g>
<g id="c132-1"><circle cx="168.3" cy="1692.1" r="5.3"/></g>
<g id="c132-2"><circle cx="168.3" cy="1712.3" r="5.3"/></g>
<g id="c133-1"><circle cx="201.7" cy="1732.6" r="5.3"/></g>
<g id="c133-2"><circle cx="201.7" cy="1752.9" r="5.3"/></g>
<g id="c134-1"><circle cx="168.3" cy="1732.6" r="5.3"/></g>
<g id="c134-2"><circle cx="168.3" cy="1752.9" r="5.3"/></g>
<g id="c135-1"><circle cx="144.3" cy="1773.1" r="5.3"/></g>
<g id="c135-2"><circle cx="144.3" cy="1793.4" r="5.3"/></g>
<g id="c136-1"><circle cx="178" cy="1773.1" r="5.3"/></g>
<g id="c136-2"><circle cx="178" cy="1793.4" r="5.3"/></g>
<g id="c137-1"><circle cx="211.3" cy="1773.1" r="5.3"/></g>
<g id="c137-2"><circle cx="211.3" cy="1793.4" r="5.3"/></g>
<g id="c137-3"><circle cx="211.3" cy="1813.7" r="5.3"/></g>
<g id="c137-4"><circle cx="211.3" cy="1833.9" r="5.3"/></g>
<g id="c138-1"><circle cx="178" cy="1813.7" r="5.3"/></g>
<g id="c138-2"><circle cx="178" cy="1833.9" r="5.3"/></g>
<g id="c139-1"><circle cx="144.3" cy="1813.7" r="5.3"/></g>
<g id="c139-2"><circle cx="144.3" cy="1833.9" r="5.3"/></g>
<g id="c139-3"><circle cx="144.3" cy="1854.2" r="5.3"/></g>
<g id="c139-4"><circle cx="144.3" cy="1874.5" r="5.3"/></g>
<g id="c139-5"><circle cx="144.3" cy="1894.7" r="5.3"/></g>
<g id="c139-6"><circle cx="144.3" cy="1915" r="5.3"/></g>
<g id="c139-7"><circle cx="144.3" cy="1935.3" r="5.3"/></g>
<g id="c139-8"><circle cx="144.3" cy="1955.5" r="5.3"/></g>
<g id="c140-1"><circle cx="128.7" cy="1975.8" r="5.3"/></g>
<g id="c140-2"><circle cx="128.7" cy="1996.1" r="5.3"/></g>
<g id="c141-1"><circle cx="162" cy="1975.8" r="5.3"/></g>
<g id="c141-2"><circle cx="162" cy="1996.1" r="5.3"/></g>
<g id="c141-3"><circle cx="162" cy="2016.3" r="5.3"/></g>
<g id="c141-4"><circle cx="162" cy="2036.6" r="5.3"/></g>
<g id="c141-5"><circle cx="162" cy="2056.9" r="5.3"/></g>
<g id="c141-6"><circle cx="162" cy="2077.1" r="5.3"/></g>
<g id="c142-1"><circle cx="128.7" cy="2016.3" r="5.3"/></g>
<g id="c142-2"><circle cx="128.7" cy="2036.6" r="5.3"/></g>
<g id="c143-1"><circle cx="95.3" cy="2016.3" r="5.3"/></g>
<g id="c143-2"><circle cx="95.3" cy="2036.6" r="5.3"/></g>
<g id="c143-3"><circle cx="95.3" cy="2056.9" r="5.3"/></g>
<g id="c143-4"><circle cx="95.3" cy="2077.1" r="5.3"/></g>
<g id="c143-5"><circle cx="95.3" cy="2097.4" r="5.3"/></g>
<g id="c143-6"><circle cx="95.3" cy="2117.7" r="5.3"/></g>
<g id="c143-7"><circle cx="95.3" cy="2137.9" r="5.3"/></g>
<g id="c143-8"><circle cx="95.3" cy="2158.2" r="5.3"/></g>
</g>
</svg>
